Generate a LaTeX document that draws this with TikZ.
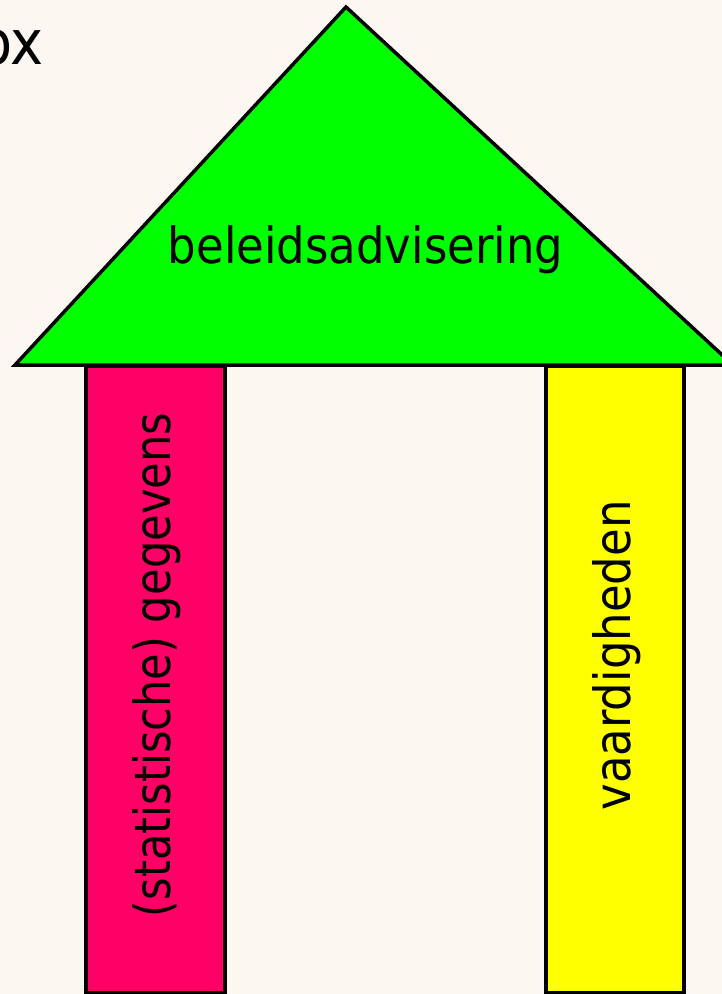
\documentclass[tikz,border=0pt]{standalone}
\usepackage{fontspec}
\setmainfont{DejaVu Sans}
\definecolor{bgcream}{HTML}{FCF7F1}
\definecolor{roofgreen}{HTML}{00FF00}
\definecolor{pillarpink}{HTML}{FF0066}
\definecolor{pillaryellow}{HTML}{FFFF00}
\newcommand{\cond}[2][0.9]{\scalebox{#1}[1]{#2}}
\begin{document}
\begin{tikzpicture}[x=1pt,y=-1pt,
  outline/.style={draw=black,line width=3.5pt,line join=miter},
  label/.style={inner sep=0pt,font=\fontsize{50}{60}\selectfont,text=black}]
\useasboundingbox (0,0) rectangle (722,994);
\fill[bgcream] (0,0) rectangle (722,994);
\begin{scope}
\clip (0,0) rectangle (722,994);
% pillars
\draw[outline,fill=pillarpink] (86,366) rectangle (225,992.5);
\draw[outline,fill=pillaryellow] (546,366) rectangle (684,992.5);
% roof
\draw[outline,fill=roofgreen] (15,365) -- (346,7) -- (733,365) -- cycle;
\end{scope}
% texts
\node[label,anchor=base] (roof) at (365.5,263) {\cond{beleidsadvisering}};
\node[label,anchor=base,rotate=90] (left) at (170,665) {\cond[0.865]{(statistische) gegevens}};
\node[label,anchor=base,rotate=90] (right) at (630,655.5) {\cond{vaardigheden}};
\node[inner sep=0pt,anchor=base east,font=\fontsize{62}{70}\selectfont] (ox) at (44,64) {\cond{ox}};
\end{tikzpicture}
\end{document}
